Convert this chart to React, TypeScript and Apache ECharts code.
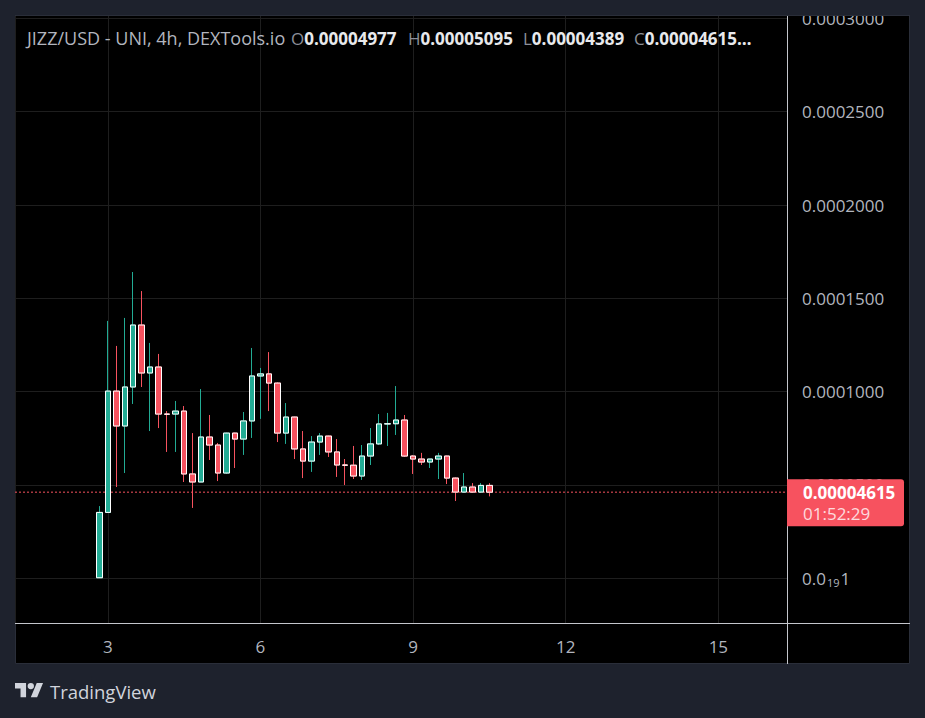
import React, { useEffect, useRef } from 'react';
import * as echarts from 'echarts';

const PAIR_TITLE = 'JIZZ/USD - UNI, 4h, DEXTools.io';
const COUNTDOWN = '01:52:29';
const BRAND = 'TradingView';
const FIRST_CANDLE_DAY = 2 + 20 / 24; // day 2, 20:00
const CANDLE_STEP_DAYS = 4 / 24; // 4h candles
const PRICE_UNIT = 1e-5;

// prices in units of 1e-5 USD
const opens = [0.03, 3.53, 10.03, 8.16, 10.25, 13.57, 11.0, 11.32, 8.8, 8.8, 8.96, 5.59, 5.16, 7.57, 7.14, 5.64, 7.78, 7.46, 8.43, 10.84, 10.95, 10.46, 7.78, 8.64, 6.93, 6.28, 7.3, 7.62, 6.77, 6.07, 6.06, 5.48, 6.55, 7.2, 8.27, 8.28, 8.48, 6.55, 6.39, 6.23, 6.39, 6.55, 5.37, 4.62, 4.89, 4.62, 4.977];
const highs = [3.87, 13.79, 12.45, 13.95, 16.41, 15.39, 12.61, 12.02, 8.96, 9.5, 9.23, 7.78, 10.14, 8.75, 7.25, 7.8, 7.8, 8.91, 12.34, 11.27, 12.12, 10.5, 9.39, 8.66, 7.89, 7.62, 7.78, 7.64, 7.46, 6.39, 7.09, 7.14, 8.05, 8.8, 8.86, 10.3, 8.75, 6.6, 6.72, 6.4, 6.72, 6.57, 5.4, 5.64, 5.1, 5.1, 5.095];
const lows = [0.02, 3.5, 4.89, 5.64, 9.34, 10.25, 7.89, 8.05, 6.77, 6.77, 5.16, 3.77, 5.16, 6.34, 5.21, 5.6, 5.91, 6.61, 7.52, 8.54, 8.96, 7.3, 7.2, 6.39, 5.37, 5.7, 6.61, 6.5, 5.43, 5.0, 5.32, 5.27, 6.07, 7.14, 7.09, 7.68, 6.5, 5.59, 6.07, 5.91, 5.32, 5.05, 4.14, 4.6, 4.6, 4.6, 4.389];
const closes = [3.53, 10.03, 8.16, 10.25, 13.57, 11.0, 11.32, 8.8, 8.79, 8.96, 5.59, 5.16, 7.57, 7.14, 5.64, 7.78, 7.46, 8.43, 10.84, 10.95, 10.46, 7.78, 8.64, 6.93, 6.28, 7.3, 7.62, 6.77, 6.07, 6.06, 5.48, 6.55, 7.2, 8.27, 8.28, 8.48, 6.55, 6.39, 6.23, 6.39, 6.55, 5.37, 4.62, 4.89, 4.62, 4.977, 4.615];

const X_MIN = 1.176;
const X_MAX = 16.349;
const X_TICK = 3;
const Y_MIN = -2.395e-5;
const Y_MAX = 30.18e-5;
const Y_TICK = 5e-5;

const GREEN = '#22ab94';
const RED = '#f7525f';
const BG = '#1e222d';
const FONT = '"Open Sans", Roboto, sans-serif';
const LABEL = '#b2b5be';

const TV_LOGO = 'M14 22H7V11H0V4h14v18zM28 22h-8l7.5-18h8L28 22zM16 8a4 4 0 1 0 8 0a4 4 0 1 0 -8 0z';

export default function App() {
  const ref = useRef<HTMLDivElement>(null);
  useEffect(() => {
    if (!ref.current) return;
    echarts.graphic.registerShape('tvlogo', echarts.graphic.extendPath(TV_LOGO, {}));
    const chart = echarts.init(ref.current, null, { renderer: 'svg' });

    const n = opens.length;
    const wickData: number[][] = [];
    const bodyData: number[][] = [];
    for (let i = 0; i < n; i++) {
      const x = FIRST_CANDLE_DAY + i * CANDLE_STEP_DAYS;
      const o = opens[i] * PRICE_UNIT;
      const c = closes[i] * PRICE_UNIT;
      wickData.push([x, o, c, lows[i] * PRICE_UNIT, highs[i] * PRICE_UNIT]);
      bodyData.push([x, o, c, Math.min(o, c), Math.max(o, c)]);
    }
    const last = n - 1;
    const lastClose = closes[last] * PRICE_UNIT;
    const fmt = (v: number) => v.toFixed(8);

    const isMult = (v: number, step: number) => Math.abs(v / step - Math.round(v / step)) < 1e-6;

    chart.setOption({
      animation: false,
      backgroundColor: BG,
      grid: { left: 15, right: 138, top: 15, bottom: 95, containLabel: false },
      xAxis: {
        type: 'value',
        min: X_MIN,
        max: X_MAX,
        minInterval: X_TICK,
        maxInterval: X_TICK,
        axisLine: { show: false },
        axisTick: { show: false },
        splitLine: { show: true, lineStyle: { color: '#1e1e1e', width: 1 } },
        axisLabel: {
          showMinLabel: false,
          showMaxLabel: false,
          margin: 15,
          color: LABEL,
          fontSize: 17,
          fontFamily: FONT,
          formatter: (v: number) => (isMult(v, X_TICK) ? String(Math.round(v)) : ''),
        },
      },
      yAxis: {
        type: 'value',
        position: 'right',
        min: Y_MIN,
        max: Y_MAX,
        minInterval: Y_TICK,
        maxInterval: Y_TICK,
        axisLine: { show: false },
        axisTick: { show: false },
        splitLine: { show: true, lineStyle: { color: '#1e1e1e', width: 1 } },
        axisLabel: {
          showMinLabel: false,
          showMaxLabel: false,
          margin: 15,
          color: LABEL,
          fontSize: 17,
          fontFamily: FONT,
          formatter: (v: number) => {
            if (!isMult(v, Y_TICK)) return '';
            if (Math.abs(v) < 1e-12) return '{a|0.0}{s|19}{a|1}';
            return v.toFixed(7);
          },
          rich: {
            a: { color: LABEL, fontSize: 17, fontFamily: FONT, lineHeight: 20 },
            s: { color: LABEL, fontSize: 11, fontFamily: FONT, lineHeight: 20, verticalAlign: 'bottom', padding: [0, 1, 0, 1] },
          },
        },
      },
      series: [
        {
          type: 'line',
          name: 'last price',
          data: [[X_MIN, lastClose], [X_MAX, lastClose]],
          showSymbol: false,
          symbol: 'none',
          lineStyle: { color: RED, type: [2, 2], width: 1 },
          silent: true,
          z: 1,
        },
        {
          type: 'candlestick',
          name: 'wick',
          barWidth: 6,
          encode: { x: 0, y: [1, 2, 3, 4] },
          data: wickData,
          itemStyle: { color: GREEN, color0: RED, borderColor: GREEN, borderColor0: RED, borderWidth: 1 },
          silent: true,
        },
        {
          type: 'candlestick',
          name: 'body',
          barWidth: 6,
          encode: { x: 0, y: [1, 2, 3, 4] },
          data: bodyData,
          itemStyle: { color: GREEN, color0: RED, borderColor: '#ffffff', borderColor0: '#ffffff', borderWidth: 1 },
          silent: true,
        },
      ],
    });

    const py = chart.convertToPixel({ yAxisIndex: 0 }, lastClose) as number;

    const ohlc = [
      { k: 'O', v: fmt(opens[last] * PRICE_UNIT), x: 291 },
      { k: 'H', v: fmt(highs[last] * PRICE_UNIT), x: 408 },
      { k: 'L', v: fmt(lows[last] * PRICE_UNIT), x: 523 },
      { k: 'C', v: fmt(lastClose) + '…', x: 634 },
    ];

    chart.setOption({
      graphic: [
        {
          type: 'rect', z: -100, silent: true,
          shape: { x: 15.5, y: 15.5, width: 894, height: 648 },
          style: { fill: '#000000', stroke: '#2a2e39', lineWidth: 1 },
        },
        {
          type: 'rect', z: 100, silent: true,
          shape: { x: 0, y: 0, width: 925, height: 15 },
          style: { fill: BG },
        },
        {
          type: 'line', z: 100, silent: true,
          shape: { x1: 15, y1: 15.5, x2: 910, y2: 15.5 },
          style: { stroke: '#2a2e39', lineWidth: 1 },
        },
        {
          type: 'line', z: 50, silent: true,
          shape: { x1: 15, y1: 623.5, x2: 910, y2: 623.5 },
          style: { stroke: '#c4c6cc', lineWidth: 1 },
        },
        {
          type: 'line', z: 50, silent: true,
          shape: { x1: 787.5, y1: 15, x2: 787.5, y2: 664 },
          style: { stroke: '#c4c6cc', lineWidth: 1 },
        },
        {
          type: 'text', z: 60, silent: true, x: 27, y: 38,
          style: { text: PAIR_TITLE, fill: LABEL, font: `18px ${FONT}`, verticalAlign: 'middle' },
        },
        ...ohlc.map((g) => ({
          type: 'text', z: 60, silent: true, x: g.x, y: 38,
          style: {
            text: `{k|${g.k}}{v|${g.v}}`,
            verticalAlign: 'middle',
            rich: {
              k: { fill: '#8c8f99', fontSize: 17, fontFamily: FONT },
              v: { fill: '#e8e9ec', fontSize: 17, fontFamily: FONT, fontWeight: 'bold' },
            },
          },
        })),
        {
          type: 'rect', z: 60, silent: true,
          shape: { x: 787, y: py - 13, width: 117, height: 47, r: [0, 3, 3, 0] },
          style: { fill: RED },
        },
        {
          type: 'text', z: 61, silent: true, x: 803, y: py,
          style: { text: fmt(lastClose), fill: '#ffffff', font: `bold 17px ${FONT}`, verticalAlign: 'middle' },
        },
        {
          type: 'text', z: 61, silent: true, x: 803, y: py + 21,
          style: { text: COUNTDOWN, fill: 'rgba(255,255,255,0.8)', font: `17px ${FONT}`, verticalAlign: 'middle' },
        },
        {
          type: 'tvlogo', z: 60, silent: true, x: 15, y: 679.8, scaleX: 0.79, scaleY: 0.79,
          style: { fill: '#d1d4dc' },
        },
        {
          type: 'text', z: 60, silent: true, x: 50, y: 691,
          style: { text: BRAND, fill: '#d1d4dc', font: `500 18.5px ${FONT}`, verticalAlign: 'middle' },
        },
      ],
    });

    return () => chart.dispose();
  }, []);

  return (
    <div style={{ position: 'fixed', left: 0, top: 0, width: 925, height: 718 }}>
      <div ref={ref} style={{ width: 925, height: 718 }} />
    </div>
  );
}
